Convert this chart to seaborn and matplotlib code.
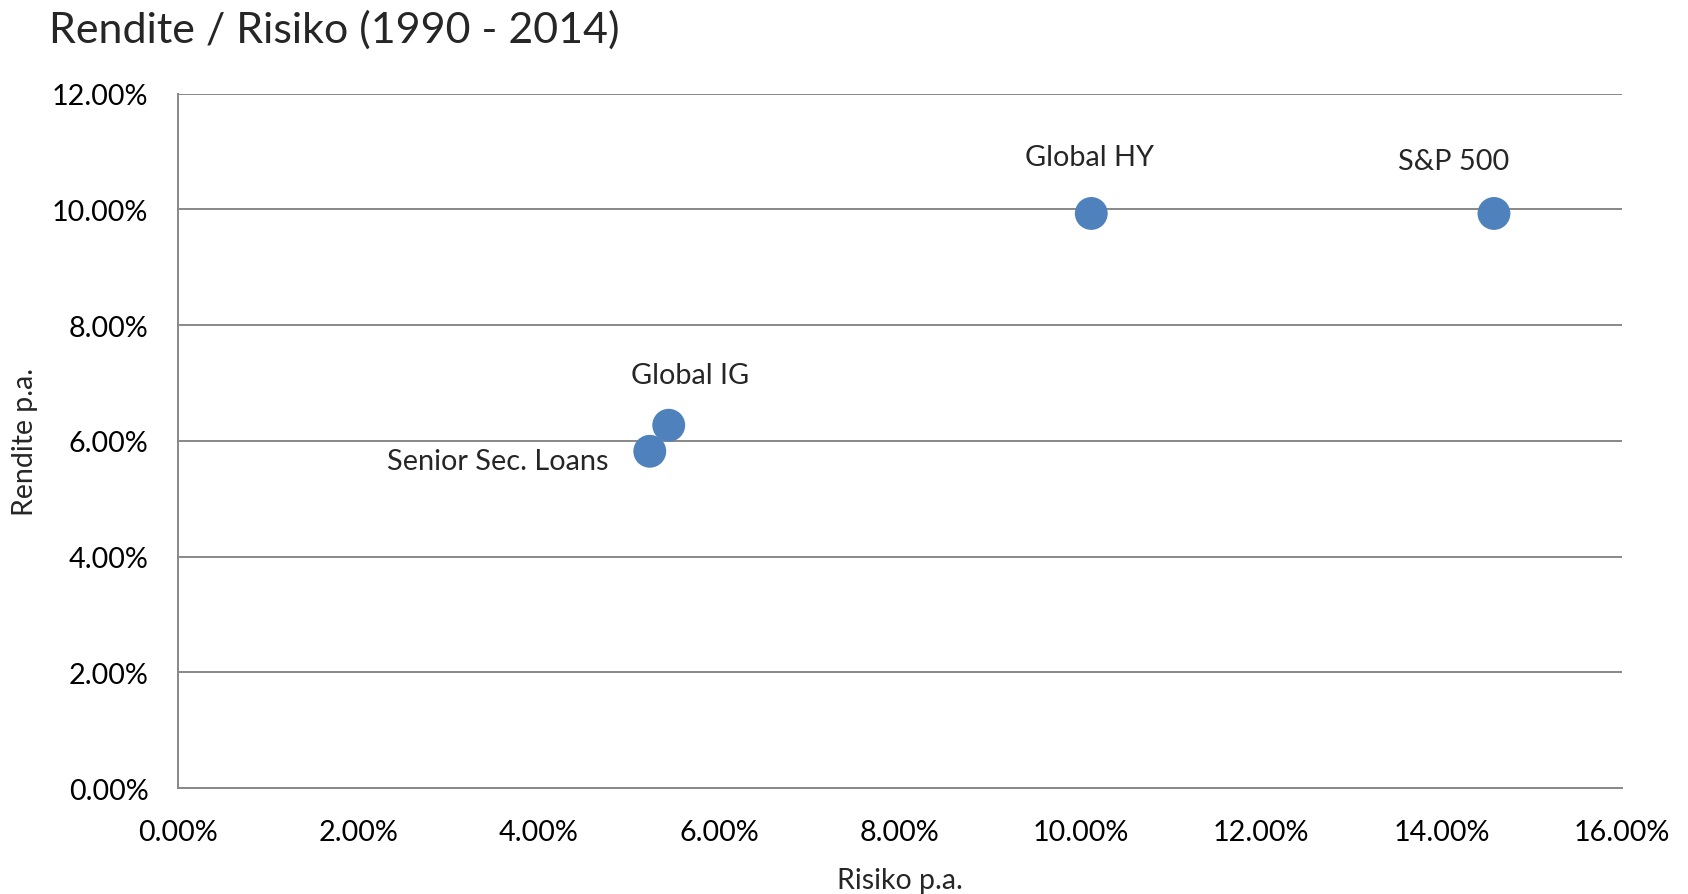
import matplotlib
matplotlib.use("Agg")
import matplotlib.pyplot as plt
import matplotlib.ticker as mticker
import seaborn as sns
import pandas as pd

# Data
names = ["Global HY", "S&P 500", "Global IG", "Senior Sec. Loans"]
risk = [10.12, 14.58, 5.44, 5.23]      # Risiko p.a. in %
ret = [9.93, 9.93, 6.27, 5.82]         # Rendite p.a. in %
x_ticks = [0, 2, 4, 6, 8, 10, 12, 14, 16]
y_ticks = [0, 2, 4, 6, 8, 10, 12]

sns.set_theme(style="white")
plt.rcParams['font.family'] = ['Lato', 'DejaVu Sans']

df = pd.DataFrame({"name": names, "risk": risk, "ret": ret})

fig = plt.figure(figsize=(16.88, 8.95), dpi=100)
ax = fig.add_axes([0.1052, 0.1184, 0.9610 - 0.1052, 0.8942 - 0.1184])

sns.scatterplot(data=df, x="risk", y="ret", ax=ax, s=560, color="#4F81BD",
                edgecolor="none", zorder=3, legend=False)

ax.set_xlim(0, 16)
ax.set_ylim(0, 12)
ax.set_xticks(x_ticks)
ax.set_yticks(y_ticks)
fmt = mticker.FuncFormatter(lambda v, p: f"{v:.2f}%")
ax.xaxis.set_major_formatter(fmt)
ax.yaxis.set_major_formatter(fmt)
ax.tick_params(axis="both", labelsize=20.7, length=0, colors="black")
ax.tick_params(axis="x", pad=22)
ax.tick_params(axis="y", pad=21)

ax.grid(axis="y", color="#888888", linewidth=1.4)
ax.grid(axis="x", visible=False)
for side in ["top", "right"]:
    ax.spines[side].set_visible(False)
for side in ["left", "bottom"]:
    ax.spines[side].set_color("#888888")
    ax.spines[side].set_linewidth(1.4)

ax.set_xlabel("Risiko p.a.", fontsize=20.5, labelpad=16)
ax.set_ylabel("Rendite p.a.", fontsize=20.5, labelpad=10)

offsets = {
    "Global HY": (-1.5, 41, "center"),
    "S&P 500": (-29, 38, "center"),
    "Global IG": (15, 36, "center"),
    "Senior Sec. Loans": (-30, -7, "right"),
}
for n, xv, yv in zip(names, risk, ret):
    dx, dy, ha = offsets[n]
    ax.annotate(n, (xv, yv), xytext=(dx, dy), textcoords="offset points",
                ha=ha, va="center", fontsize=20.8)

fig.text(0.029, 0.966, "Rendite / Risiko (1990 - 2014)", fontsize=31,
         ha="left", va="center")

fig.savefig("out.png", dpi=100)
